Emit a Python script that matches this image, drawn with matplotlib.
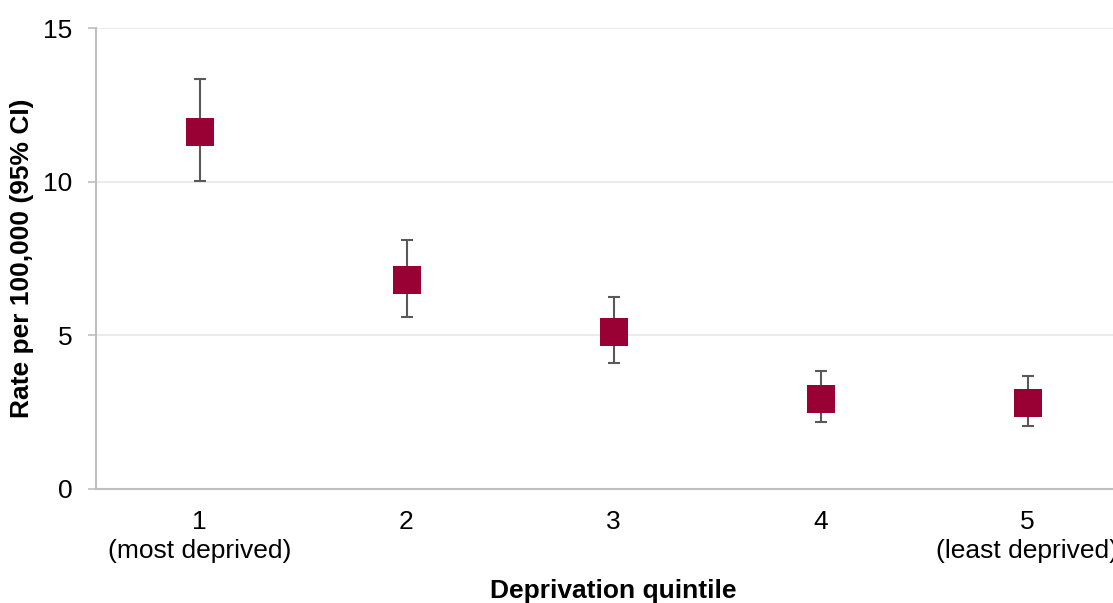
import matplotlib
matplotlib.use("Agg")
import matplotlib.pyplot as plt
import numpy as np

plt.rcParams["font.family"] = ["Liberation Sans", "DejaVu Sans"]

# ── data ──────────────────────────────────────────────────────────────────────
quintiles = ["1\n(most deprived)", "2", "3", "4", "5\n(least deprived)"]
rate  = [11.62, 6.80, 5.11, 2.93, 2.80]
lower = [10.02, 5.60, 4.10, 2.18, 2.05]
upper = [13.34, 8.10, 6.25, 3.84, 3.68]

COLOR_MARK = "#990033"
COLOR_ERR  = "#595959"
COLOR_AXIS = "#bfbfbf"
COLOR_GRID = "#e8e8e8"

DPI = 100

fig = plt.figure(figsize=(11.13, 6.03), dpi=DPI)
# axes runs past the right edge, like the source chart (last label is clipped)
ax = fig.add_axes([96 / 1113, 1 - 489 / 603, 1035 / 1113, 461 / 603])

x = np.arange(len(quintiles))
rate_a = np.array(rate)
yerr = [rate_a - np.array(lower), np.array(upper) - rate_a]

ax.errorbar(x, rate, yerr=yerr, fmt="none", ecolor=COLOR_ERR,
            elinewidth=1.5, capsize=4.5, capthick=1.5, zorder=2)
ax.plot(x, rate, linestyle="none", marker="s", markersize=19.5,
        color=COLOR_MARK, markeredgewidth=0, zorder=3)

ax.set_xlim(-0.5, 4.5)
ax.set_ylim(0, 15)
ax.set_yticks([0, 5, 10, 15])
ax.set_xticks(x)
ax.set_xticklabels(quintiles, fontsize=19, linespacing=1.25)
ax.tick_params(axis="x", length=0, pad=15)
ax.tick_params(axis="y", length=6, color=COLOR_AXIS, width=1.2,
               labelsize=19, pad=11)

ax.grid(axis="y", color=COLOR_GRID, linewidth=1.2, zorder=0)
ax.set_axisbelow(True)
for side in ["top", "right"]:
    ax.spines[side].set_visible(False)
for side in ["left", "bottom"]:
    ax.spines[side].set_color(COLOR_AXIS)
    ax.spines[side].set_linewidth(1.5)

ax.set_xlabel("Deprivation quintile", fontsize=19, fontweight="bold",
              labelpad=12)
ax.set_ylabel("Rate per 100,000 (95% CI)", fontsize=19, fontweight="bold")
ax.yaxis.set_label_coords(-0.060, 0.5)

fig.savefig("out.png", dpi=DPI)
